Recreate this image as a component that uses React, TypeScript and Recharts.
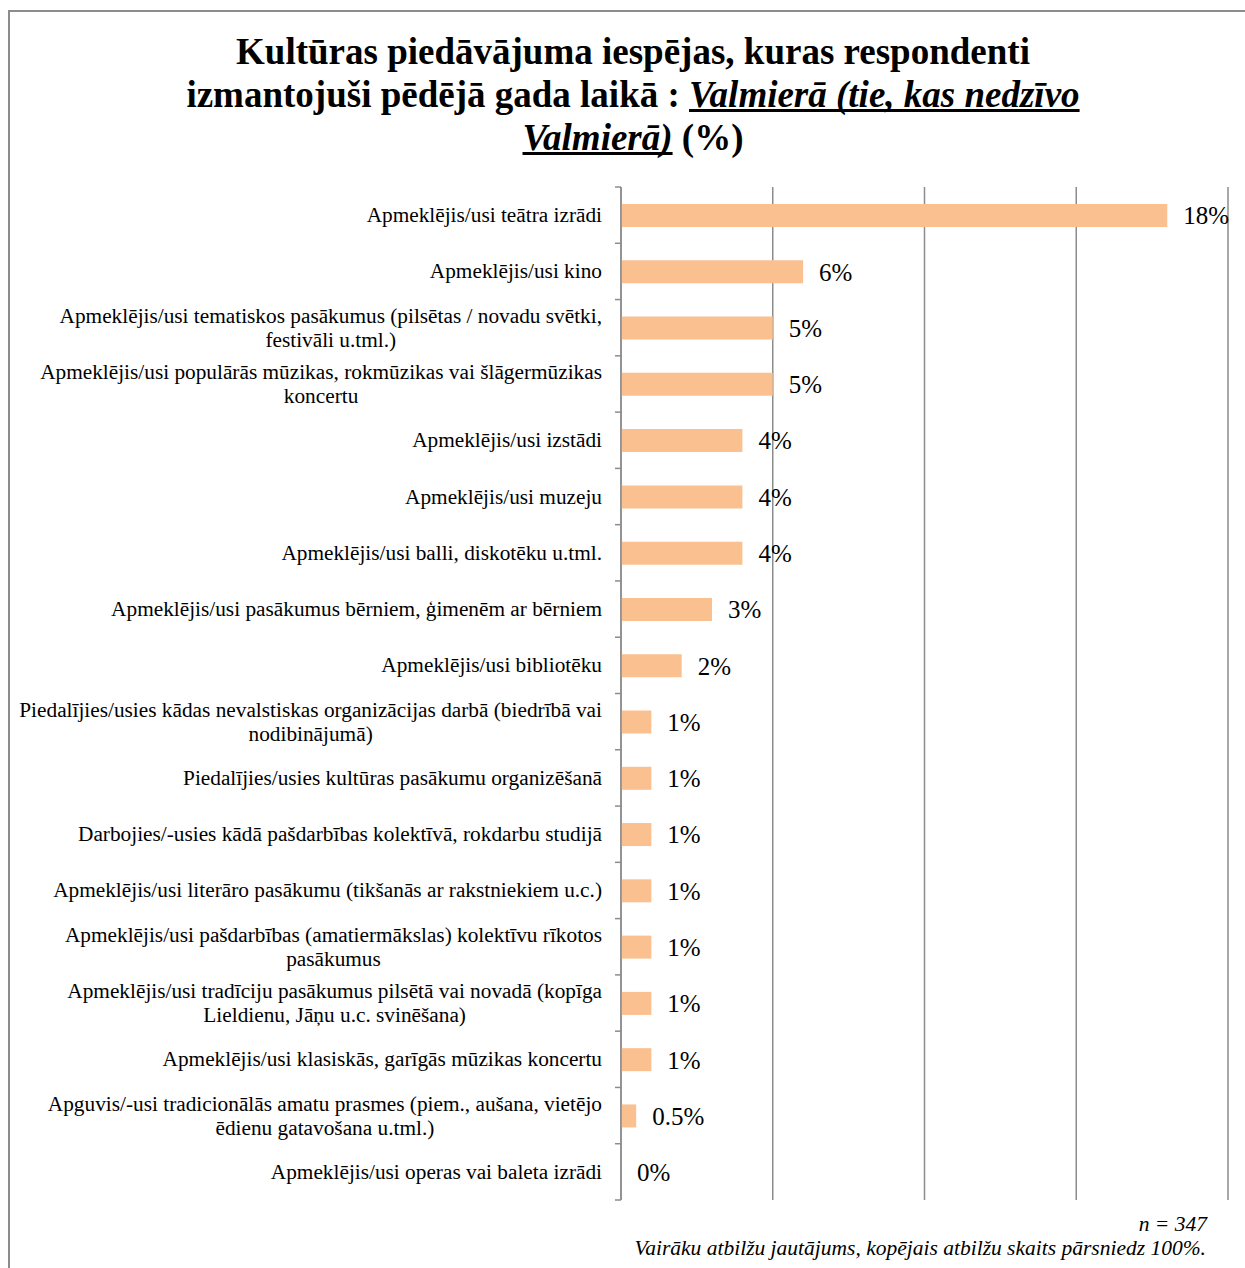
import React from "react";
import { BarChart, Bar, XAxis, YAxis, CartesianGrid, LabelList } from "recharts";

const categories: string[] = [
  "Apmeklējis/usi teātra izrādi",
  "Apmeklējis/usi kino",
  "Apmeklējis/usi tematiskos pasākumus (pilsētas / novadu svētki,\nfestivāli u.tml.)",
  "Apmeklējis/usi populārās mūzikas, rokmūzikas vai šlāgermūzikas\nkoncertu",
  "Apmeklējis/usi izstādi",
  "Apmeklējis/usi muzeju",
  "Apmeklējis/usi balli, diskotēku u.tml.",
  "Apmeklējis/usi pasākumus bērniem, ģimenēm ar bērniem",
  "Apmeklējis/usi bibliotēku",
  "Piedalījies/usies kādas nevalstiskas organizācijas darbā (biedrībā vai\nnodibinājumā)",
  "Piedalījies/usies kultūras pasākumu organizēšanā",
  "Darbojies/-usies kādā pašdarbības kolektīvā, rokdarbu studijā",
  "Apmeklējis/usi literāro pasākumu (tikšanās ar rakstniekiem u.c.)",
  "Apmeklējis/usi pašdarbības (amatiermākslas) kolektīvu rīkotos\npasākumus",
  "Apmeklējis/usi tradīciju pasākumus pilsētā vai novadā (kopīga\nLieldienu, Jāņu u.c. svinēšana)",
  "Apmeklējis/usi klasiskās, garīgās mūzikas koncertu",
  "Apguvis/-usi tradicionālās amatu prasmes (piem., aušana, vietējo\nēdienu gatavošana u.tml.)",
  "Apmeklējis/usi operas vai baleta izrādi",
];

const values: number[] = [18, 6, 5, 5, 4, 4, 4, 3, 2, 1, 1, 1, 1, 1, 1, 1, 0.5, 0];

const xTicks: number[] = [0, 5, 10, 15, 20];

const titleLine1 = "Kultūras piedāvājuma iespējas, kuras respondenti";
const titleLine2a = "izmantojuši pēdējā gada laikā : ";
const titleLine2b = "Valmierā (tie, kas nedzīvo";
const titleLine3a = "Valmierā)";
const titleLine3b = " (%)";
const noteN = "n = 347";
const noteMulti = "Vairāku atbilžu jautājums, kopējais atbilžu skaits pārsniedz 100%.";

const data = categories.map((c, i) => ({ name: c, value: values[i] }));

const W = 1245;
const H = 1268;
const TOP = 187;
const BOTTOM_PLOT = 1200;
const AXIS_X = 621;
const RIGHT_X = 1228;
const XAXIS_H = 1;
const STEP = (BOTTOM_PLOT - TOP) / categories.length;
const FONT = "'Liberation Serif', 'Times New Roman', serif";
const GRID = "#8c8c8c";
const LABEL_FS = 21.3;

let ctx: CanvasRenderingContext2D | null = null;
function measure(text: string, font: string): number {
  try {
    if (!ctx) ctx = document.createElement("canvas").getContext("2d");
    if (ctx) {
      ctx.font = font;
      return ctx.measureText(text).width;
    }
  } catch (e) {}
  return text.length * 9.5;
}

const CategoryTick = (props: any) => {
  const { y, payload, index } = props;
  const lines = String(payload.value).split("\n");
  const maxW = Math.max(...lines.map((l) => measure(l, `${LABEL_FS}px 'Liberation Serif'`)));
  const right = AXIS_X - 19;
  const cx = right - maxW / 2;
  const lh = 24;
  const y0 = y - ((lines.length - 1) * lh) / 2;
  return (
    <g>
      <line x1={AXIS_X - 6} x2={AXIS_X} y1={y - STEP / 2} y2={y - STEP / 2} stroke={GRID} strokeWidth={1.5} />
      {index === categories.length - 1 && (
        <line x1={AXIS_X - 6} x2={AXIS_X} y1={y + STEP / 2} y2={y + STEP / 2} stroke={GRID} strokeWidth={1.5} />
      )}
      {lines.map((l, i) => (
        <text
          key={i}
          x={cx}
          y={y0 + i * lh}
          textAnchor="middle"
          dominantBaseline="central"
          fontFamily={FONT}
          fontSize={LABEL_FS}
          fill="#000"
        >
          {l}
        </text>
      ))}
    </g>
  );
};

const gridGen = (props: any) => {
  const xa = props && props.xAxis;
  if (xa && typeof xa.scale === "function") {
    return xTicks.map((t) => xa.scale(t));
  }
  const off = props.offset;
  return xTicks.map((t) => off.left + (off.width * t) / xTicks[xTicks.length - 1]);
};

export default function App() {
  return (
    <div style={{ position: "absolute", left: 0, top: 0, width: W, height: H, background: "#fff", overflow: "hidden" }}>
      <div style={{ position: "absolute", left: 8, top: 10, width: 1.5, height: H - 10, background: GRID }} />
      <div style={{ position: "absolute", left: 8, top: 10, width: W - 8, height: 1.5, background: GRID }} />
      <div
        style={{
          position: "absolute",
          left: 0,
          top: 30,
          width: 1266,
          textAlign: "center",
          fontFamily: FONT,
          fontWeight: "bold",
          fontSize: 37,
          lineHeight: "43px",
          color: "#000",
          whiteSpace: "nowrap",
        }}
      >
        <div>{titleLine1}</div>
        <div>
          {titleLine2a}
          <span style={{ fontStyle: "italic", textDecoration: "underline", textDecorationSkipInk: "none" as any }}>{titleLine2b}</span>
        </div>
        <div>
          <span style={{ fontStyle: "italic", textDecoration: "underline", textDecorationSkipInk: "none" as any }}>{titleLine3a}</span>
          {titleLine3b}
        </div>
      </div>
      <div style={{ position: "absolute", left: 0, top: 0 }}>
        <BarChart
          width={W}
          height={H}
          layout="vertical"
          data={data}
          margin={{ top: TOP, right: W - RIGHT_X, bottom: H - BOTTOM_PLOT - XAXIS_H, left: 0 }}
          barSize={23}
        >
          <CartesianGrid
            horizontal={false}
            vertical={true}
            stroke={GRID}
            strokeWidth={1.5}
            verticalCoordinatesGenerator={gridGen}
          />
          <XAxis
            type="number"
            domain={[0, 20]}
            ticks={xTicks}
            tick={false}
            axisLine={false}
            tickLine={false}
            height={XAXIS_H}
          />
          <YAxis
            type="category"
            dataKey="name"
            width={AXIS_X}
            tick={<CategoryTick />}
            tickLine={false}
            axisLine={{ stroke: GRID, strokeWidth: 1.5 }}
            interval={0}
          />
          <Bar dataKey="value" fill="#FAC090" isAnimationActive={false} minPointSize={0.01}>
            <LabelList
              dataKey="value"
              position="right"
              offset={16}
              formatter={(v: any) => `${v}%`}
              style={{ fontFamily: FONT, fontSize: 25, fill: "#000" }}
            />
          </Bar>
        </BarChart>
      </div>
      <div
        style={{
          position: "absolute",
          right: W - 1207,
          top: 1212,
          fontFamily: FONT,
          fontStyle: "italic",
          fontSize: 21.5,
          lineHeight: "24px",
          textAlign: "right",
          whiteSpace: "nowrap",
        }}
      >
        {noteN}
      </div>
      <div
        style={{
          position: "absolute",
          right: W - 1206,
          top: 1236,
          fontFamily: FONT,
          fontStyle: "italic",
          fontSize: 21.5,
          lineHeight: "24px",
          textAlign: "right",
          whiteSpace: "nowrap",
        }}
      >
        {noteMulti}
      </div>
    </div>
  );
}
